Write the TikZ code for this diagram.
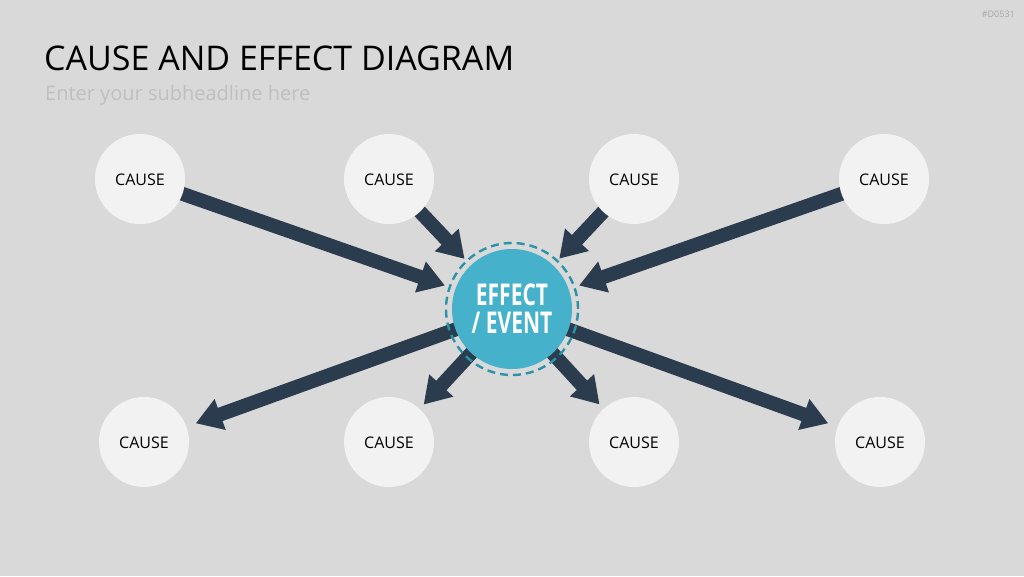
\documentclass[tikz,border=0pt]{standalone}
\usepackage{fontspec}
\setmainfont{Open Sans}
\usetikzlibrary{arrows.meta}
\definecolor{bg}{HTML}{D9D9D9}
\definecolor{causefill}{HTML}{F2F2F2}
\definecolor{arrowcol}{HTML}{2B3C4F}
\definecolor{effectfill}{HTML}{45B1CB}
\definecolor{ringcol}{HTML}{2A93A8}
\definecolor{subgrey}{HTML}{BFBFBF}
\definecolor{taggrey}{HTML}{A6A6A6}
\newcommand{\causetext}{\raisebox{-6.7pt}[0pt][0pt]{CAUSE}}
\tikzset{
  causenode/.style={circle, fill=causefill, minimum size=90pt, inner sep=0pt, font=\fontsize{16}{18}\selectfont},
  effectnode/.style={circle, fill=effectfill, minimum size=120pt, inner sep=0pt, text=white, align=center, font=\fontsize{30}{28}\selectfont\bfseries},
  ringnode/.style={circle, draw=ringcol, line width=2.4pt, dash pattern=on 8pt off 5pt, minimum size=132pt, inner sep=0pt},
  bigarrow/.style={draw=arrowcol, line width=14pt, -{Triangle[width=31pt,length=26pt]}},
}
\begin{document}
\begin{tikzpicture}[x=1pt,y=-1pt]
\useasboundingbox (0,0) rectangle (1024,576);
\fill[bg] (0,0) rectangle (1024,576);
% coordinates
\coordinate (ec) at (512,309);
\coordinate (t1c) at (140,179);
\coordinate (t2c) at (389,179);
\coordinate (t3c) at (634,179);
\coordinate (t4c) at (884,179);
\coordinate (b1c) at (144,442);
\coordinate (b2c) at (389,442);
\coordinate (b3c) at (634,442);
\coordinate (b4c) at (880,442);
% arrows
\draw[bigarrow, shorten >=71pt] (t1c) -- (ec);
\draw[bigarrow, shorten >=69pt] (t2c) -- (ec);
\draw[bigarrow, shorten >=69pt] (t3c) -- (ec);
\draw[bigarrow, shorten >=71pt] (t4c) -- (ec);
\draw[bigarrow, shorten >=55pt] (ec) -- (b1c);
\draw[bigarrow, shorten >=51pt] (ec) -- (b2c);
\draw[bigarrow, shorten >=51pt] (ec) -- (b3c);
\draw[bigarrow, shorten >=55pt] (ec) -- (b4c);
% cause circles
\node[causenode] (t1) at (t1c) {\causetext};
\node[causenode] (t2) at (t2c) {\causetext};
\node[causenode] (t3) at (t3c) {\causetext};
\node[causenode] (t4) at (t4c) {\causetext};
\node[causenode] (b1) at (b1c) {\causetext};
\node[causenode] (b2) at (b2c) {\causetext};
\node[causenode] (b3) at (b3c) {\causetext};
\node[causenode] (b4) at (b4c) {\causetext};
% effect
\node[effectnode] (e) at (ec) {\scalebox{0.7}[1]{EFFECT}\\\scalebox{0.7}[1]{/ EVENT}};
\node[ringnode] (ring) at (ec) {};
% texts
\node[anchor=base west, inner sep=0pt, font=\fontsize{34}{38}\selectfont] (title) at (44,70) {CAUSE AND EFFECT DIAGRAM};
\node[anchor=base west, inner sep=0pt, text=subgrey, font=\fontsize{20}{24}\selectfont] (sub) at (45,100) {Enter your subheadline here};
\node[anchor=base east, inner sep=0pt, text=taggrey, font=\fontsize{9}{10}\selectfont] (tag) at (1015,17) {\#D0531};
\end{tikzpicture}
\end{document}
